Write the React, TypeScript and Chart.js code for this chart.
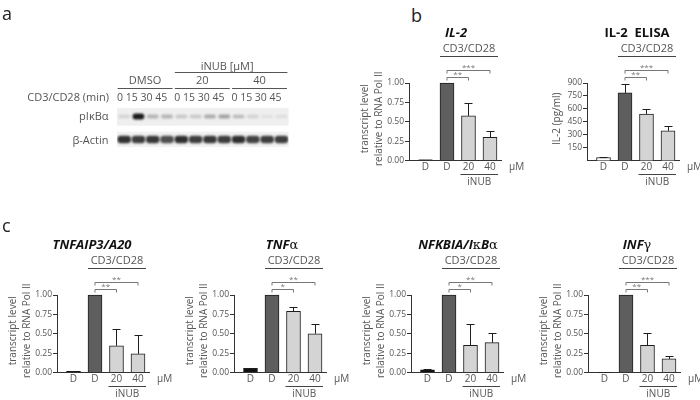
import React, { useEffect, useRef } from 'react';
import { Chart, registerables } from 'chart.js';
Chart.register(...registerables);

// ---------- data ----------
const conditions = ['D', 'D', '20', '40'];
const il2Values = [0.01, 1.0, 0.575, 0.3];
const il2Errors = [0, 0, 0.165, 0.08];
const elisaValues = [35, 785, 540, 345];
const elisaErrors = [6, 108, 55, 57];
const a20Values = [0.015, 1.0, 0.345, 0.24];
const a20Errors = [0.004, 0, 0.21, 0.24];
const tnfValues = [0.055, 1.0, 0.79, 0.5];
const tnfErrors = [0.008, 0, 0.055, 0.12];
const nfkbiaValues = [0.035, 1.0, 0.35, 0.385];
const nfkbiaErrors = [0.004, 0, 0.28, 0.13];
const infgValues = [0.005, 1.0, 0.35, 0.175];
const infgErrors = [0, 0, 0.155, 0.035];
const transcriptTicks = [0, 0.25, 0.5, 0.75, 1.0];
const elisaTicks = [150, 300, 450, 600, 750, 900];

const il2Sig = ['**', '***'];
const elisaSig = ['**', '***'];
const a20Sig = ['**', '**'];
const tnfSig = ['*', '**'];
const nfkbiaSig = ['*', '**'];
const infgSig = ['**', '***'];

const blotGroups = ['DMSO', '20', '40'];
const laneTimes = ['0', '15', '30', '45'];
const pIkBaIntensity = [0.12, 0.95, 0.26, 0.26, 0.18, 0.18, 0.3, 0.34, 0.24, 0.13, 0.07, 0.08];
const actinIntensity = [0.85, 0.8, 0.82, 0.72, 0.86, 0.8, 0.82, 0.8, 0.86, 0.78, 0.8, 0.8];

// ---------- styles ----------
const FONT = "'Open Sans', 'DejaVu Sans', sans-serif";
const TXT = '#555';
const AXIS = '#333';
const DARK = '#5e5e5e';
const LIGHT = '#d4d4d4';
const BORDER = '#1e1e1e';

const PW = 92;
const PH = 77.5;
const PADL = 62;
const PADT = 62;
const CW = 184;
const CH = 172;
const YW = 30;
const XH = 16;
const XMIN = -0.767;
const XMAX = XMIN + PW / 21.5;

type Seg = [string, string];

interface PanelProps {
  axisX: number;
  topY: number;
  title: Seg[];
  titleDx: number;
  values: number[];
  errors: number[];
  ticks: number[];
  max: number;
  yTitle: string[];
  firstFill: string;
  sig: string[];
  decimals: number;
}

function BarPanel(p: PanelProps) {
  const ref = useRef<HTMLCanvasElement>(null);
  useEffect(() => {
    const annot = {
      id: 'annot',
      afterDatasetsDraw(chart: any) {
        const ctx = chart.ctx;
        const ca = chart.chartArea;
        const xs = chart.scales.x;
        const ys = chart.scales.y;
        ctx.save();
        // error bars
        ctx.strokeStyle = '#1e1e1e';
        ctx.lineWidth = 1;
        p.values.forEach((v, i) => {
          const e = p.errors[i];
          if (!e) return;
          const x = Math.round(xs.getPixelForValue(i)) + 0.5;
          const y1 = ys.getPixelForValue(v);
          const y2 = Math.round(ys.getPixelForValue(v + e)) + 0.5;
          ctx.beginPath();
          ctx.moveTo(x, y1);
          ctx.lineTo(x, y2);
          ctx.moveTo(x - 4, y2);
          ctx.lineTo(x + 4, y2);
          ctx.stroke();
        });
        const x1 = xs.getPixelForValue(1);
        const x2 = xs.getPixelForValue(2);
        const x3 = xs.getPixelForValue(3);
        // title
        ctx.textBaseline = 'middle';
        const segFont = (s: string) =>
          s === 'bi' ? `italic bold 13px ${FONT}` : s === 'b' ? `bold 13px ${FONT}` : `13px 'DejaVu Serif', serif`;
        let total = 0;
        p.title.forEach(([t, s]) => {
          ctx.font = segFont(s);
          total += ctx.measureText(t).width;
        });
        let tx = ca.left + p.titleDx - total / 2;
        ctx.fillStyle = '#111';
        ctx.textAlign = 'left';
        p.title.forEach(([t, s]) => {
          ctx.font = segFont(s);
          ctx.fillText(t, tx, ca.top - 49.5);
          tx += ctx.measureText(t).width;
        });
        // CD3/CD28
        ctx.fillStyle = TXT;
        ctx.strokeStyle = '#444';
        ctx.font = `11px ${FONT}`;
        ctx.textAlign = 'center';
        ctx.fillText('CD3/CD28', (x1 - 7 + x3 + 8) / 2, ca.top - 34);
        const ly = Math.round(ca.top - 27.5) + 0.5;
        ctx.beginPath();
        ctx.moveTo(x1 - 7, ly);
        ctx.lineTo(x3 + 8, ly);
        ctx.stroke();
        // brackets
        ctx.strokeStyle = '#777';
        ctx.fillStyle = '#777';
        ctx.font = `8px ${FONT}`;
        ctx.textBaseline = 'bottom';
        const bracket = (xa: number, xb: number, y: number, label: string) => {
          const yy = Math.round(y) + 0.5;
          ctx.beginPath();
          ctx.moveTo(xa, yy + 3);
          ctx.lineTo(xa, yy);
          ctx.lineTo(xb, yy);
          ctx.lineTo(xb, yy + 3);
          ctx.stroke();
          ctx.fillText(label, (xa + xb) / 2, yy + 1);
        };
        bracket(x1, x3, ca.top - 13, p.sig[1]);
        bracket(x1, x2, ca.top - 6, p.sig[0]);
        // y title
        ctx.fillStyle = TXT;
        ctx.font = `10px ${FONT}`;
        ctx.textBaseline = 'middle';
        ctx.textAlign = 'center';
        const cy = (ca.top + ca.bottom) / 2 - 3;
        const n = p.yTitle.length;
        p.yTitle.forEach((t, i) => {
          const lx = n === 1 ? ca.left - 30 : ca.left - 44 + i * 14.5;
          ctx.save();
          ctx.translate(lx, cy);
          ctx.rotate(-Math.PI / 2);
          ctx.fillText(t, 0, 0);
          ctx.restore();
        });
        // uM, iNUB
        ctx.font = `10px ${FONT}`;
        ctx.textAlign = 'left';
        ctx.fillText('\u00b5M', ca.left + 100, ca.bottom + 7);
        ctx.strokeStyle = '#444';
        const uy = Math.round(ca.bottom + 13) + 0.5;
        ctx.beginPath();
        ctx.moveTo(x2 - 8, uy);
        ctx.lineTo(x3 + 8, uy);
        ctx.stroke();
        ctx.textAlign = 'center';
        ctx.fillText('iNUB', (x2 + x3) / 2, ca.bottom + 21.5);
        ctx.restore();
      },
    };

    const fills = [p.firstFill, DARK, LIGHT, LIGHT];
    const chart = new Chart(ref.current!, {
      type: 'bar',
      data: {
        datasets: [
          {
            data: p.values.map((v, i) => ({ x: i, y: v })),
            backgroundColor: fills,
            borderColor: BORDER,
            borderWidth: 1,
            barThickness: 14,
            clip: false,
          } as any,
        ],
      },
      options: {
        responsive: false,
        animation: false,
        devicePixelRatio: 1,
        layout: {
          padding: {
            left: PADL - YW,
            right: CW - PADL - PW,
            top: PADT,
            bottom: CH - PADT - PH - XH,
          },
        },
        plugins: { legend: { display: false }, tooltip: { enabled: false }, title: { display: false } },
        scales: {
          x: {
            type: 'linear',
            offset: false,
            min: XMIN,
            max: XMAX,
            afterBuildTicks: (s: any) => {
              s.ticks = conditions.map((_, i) => ({ value: i }));
            },
            afterFit: (s: any) => {
              s.height = XH;
            },
            grid: { display: false, drawTicks: false, offset: false },
            border: { display: true, color: AXIS, width: 1 },
            ticks: {
              callback: (v: any) => conditions[v],
              color: TXT,
              font: { family: FONT, size: 10 },
              padding: 1,
              autoSkip: false,
              maxRotation: 0,
            },
          },
          y: {
            type: 'linear',
            min: 0,
            max: p.max,
            afterBuildTicks: (s: any) => {
              s.ticks = p.ticks.map((v) => ({ value: v }));
            },
            afterFit: (s: any) => {
              s.width = YW;
            },
            grid: { drawOnChartArea: false, drawTicks: true, tickLength: 4, color: AXIS },
            border: { display: true, color: AXIS, width: 1 },
            ticks: {
              callback: (v: any) => Number(v).toFixed(p.decimals),
              color: TXT,
              font: { family: FONT, size: 8.5 },
              padding: 1,
            },
          },
        },
      },
      plugins: [annot],
    } as any);
    return () => chart.destroy();
  }, []);
  return (
    <canvas
      ref={ref}
      width={CW}
      height={CH}
      style={{ position: 'absolute', left: p.axisX - PADL, top: p.topY - PADT, width: CW, height: CH }}
    />
  );
}

function Blot() {
  const ref = useRef<HTMLCanvasElement>(null);
  useEffect(() => {
    const lanes = blotGroups.flatMap(() => laneTimes);
    const annot = {
      id: 'blotAnnot',
      beforeDatasetsDraw(chart: any) {
        const ctx = chart.ctx;
        const ys = chart.scales.y;
        const ca = chart.chartArea;
        ctx.save();
        ctx.fillStyle = '#efefef';
        ctx.fillRect(ca.left, ys.getPixelForValue(1.37), ca.right - ca.left, ys.getPixelForValue(0.6) - ys.getPixelForValue(1.37));
        ctx.fillStyle = '#f2f2f2';
        ctx.fillRect(ca.left, ys.getPixelForValue(0.34), ca.right - ca.left, ys.getPixelForValue(-0.33) - ys.getPixelForValue(0.34));
        ctx.restore();
        ctx.filter = 'blur(1.1px)';
      },
      afterDatasetsDraw(chart: any) {
        const ctx = chart.ctx;
        ctx.filter = 'none';
        const xs = chart.scales.x;
        const ys = chart.scales.y;
        const ca = chart.chartArea;
        ctx.save();
        ctx.fillStyle = TXT;
        ctx.strokeStyle = '#555';
        ctx.lineWidth = 1;
        ctx.textBaseline = 'middle';
        ctx.font = `11px ${FONT}`;
        blotGroups.forEach((g, gi) => {
          const a = xs.getPixelForValue(gi * 4) - 6.5;
          const b = xs.getPixelForValue(gi * 4 + 3) + 5.5;
          ctx.textAlign = 'center';
          ctx.fillText(g, (a + b) / 2, ca.top - 24);
          const ly = Math.round(ca.top - 16.7) + 0.5;
          ctx.beginPath();
          ctx.moveTo(a, ly);
          ctx.lineTo(b, ly);
          ctx.stroke();
          ctx.font = `10.5px ${FONT}`;
          ctx.fillText(lanes.slice(gi * 4, gi * 4 + 4).join(' '), (a + b) / 2 - 3, ca.top - 6.7);
          ctx.font = `11px ${FONT}`;
        });
        const ia = xs.getPixelForValue(4) - 6.5;
        const ib = xs.getPixelForValue(11) + 6;
        ctx.textAlign = 'center';
        ctx.fillText('iNUB [\u00b5M]', (ia + ib) / 2 - 4, ca.top - 38.3);
        const hy = Math.round(ca.top - 33.3) + 0.5;
        ctx.beginPath();
        ctx.moveTo(ia, hy);
        ctx.lineTo(ib, hy);
        ctx.stroke();
        ctx.textAlign = 'right';
        ctx.fillText('CD3/CD28 (min)', ca.left - 8, ca.top - 6.7);
        ctx.fillText('pI\u03baB\u03b1', ca.left - 8.5, ys.getPixelForValue(1) + 0.2);
        ctx.fillText('\u03b2-Actin', ca.left - 8.5, ys.getPixelForValue(0) + 1);
        ctx.restore();
      },
    };
    const chart = new Chart(ref.current!, {
      type: 'bar',
      data: {
        datasets: [
          {
            data: pIkBaIntensity.map((v, i) => ({ x: i, y: [1 - 0.05 - 0.07 * v, 1 + 0.05 + 0.07 * v] })),
            backgroundColor: pIkBaIntensity.map((v) => `rgba(15,15,15,${v})`),
            barThickness: 11,
            borderRadius: 3,
            borderSkipped: false,
            grouped: false,
          } as any,
          {
            data: actinIntensity.map((v, i) => ({ x: i, y: [-0.15, 0.15] })),
            backgroundColor: actinIntensity.map((v) => `rgba(15,15,15,${v})`),
            barThickness: 13,
            borderRadius: 4,
            borderSkipped: false,
            grouped: false,
          } as any,
        ],
      },
      options: {
        responsive: false,
        animation: false,
        devicePixelRatio: 1,
        layout: { padding: { left: 117, right: 300 - 288.6, top: 105, bottom: 160 - 151 } },
        plugins: { legend: { display: false }, tooltip: { enabled: false } },
        scales: {
          x: { type: 'linear', offset: false, min: -0.5, max: 11.5, display: false, grid: { offset: false } },
          y: { type: 'linear', min: -0.5, max: 1.5, display: false },
        },
      },
      plugins: [annot],
    } as any);
    return () => chart.destroy();
  }, []);
  return (
    <canvas ref={ref} width={300} height={160} style={{ position: 'absolute', left: 0, top: 0, width: 300, height: 160 }} />
  );
}

const labelStyle = (left: number, top: number): React.CSSProperties => ({
  position: 'absolute',
  left,
  top,
  fontSize: 18,
  lineHeight: '20px',
  color: '#222',
  fontFamily: FONT,
});

export default function App() {
  const transcriptTitle = ['transcript level', 'relative to RNA Pol II'];
  return (
    <div
      style={{
        position: 'fixed',
        left: 0,
        top: 0,
        width: 700,
        height: 400,
        overflow: 'hidden',
        background: '#fff',
        fontFamily: FONT,
      }}
    >
      <Blot />
      <span style={labelStyle(2, 3)}>a</span>
      <span style={labelStyle(411, 5)}>b</span>
      <span style={labelStyle(2, 215)}>c</span>
      <BarPanel axisX={409} topY={83} title={[['IL-2', 'bi']]} titleDx={47} values={il2Values} errors={il2Errors}
        ticks={transcriptTicks} max={1} yTitle={transcriptTitle} firstFill="#111" sig={il2Sig} decimals={2} />
      <BarPanel axisX={587} topY={83} title={[['IL-2  ELISA', 'b']]} titleDx={50} values={elisaValues} errors={elisaErrors}
        ticks={elisaTicks} max={900} yTitle={['IL-2 (pg/ml)']} firstFill="#fff" sig={elisaSig} decimals={0} />
      <BarPanel axisX={57} topY={295} title={[['TNFAIP3/A20', 'bi']]} titleDx={35} values={a20Values} errors={a20Errors}
        ticks={transcriptTicks} max={1} yTitle={transcriptTitle} firstFill="#111" sig={a20Sig} decimals={2} />
      <BarPanel axisX={234} topY={295} title={[['TNF', 'bi'], ['\u03b1', 'n']]} titleDx={48} values={tnfValues} errors={tnfErrors}
        ticks={transcriptTicks} max={1} yTitle={transcriptTitle} firstFill="#111" sig={tnfSig} decimals={2} />
      <BarPanel axisX={411} topY={295} title={[['NFKBIA/I', 'bi'], ['\u03ba', 'n'], ['B', 'bi'], ['\u03b1', 'n']]} titleDx={47}
        values={nfkbiaValues} errors={nfkbiaErrors} ticks={transcriptTicks} max={1} yTitle={transcriptTitle} firstFill="#111" sig={nfkbiaSig} decimals={2} />
      <BarPanel axisX={588} topY={295} title={[['INF', 'bi'], ['\u03b3', 'n']]} titleDx={49} values={infgValues} errors={infgErrors}
        ticks={transcriptTicks} max={1} yTitle={transcriptTitle} firstFill="#111" sig={infgSig} decimals={2} />
    </div>
  );
}
